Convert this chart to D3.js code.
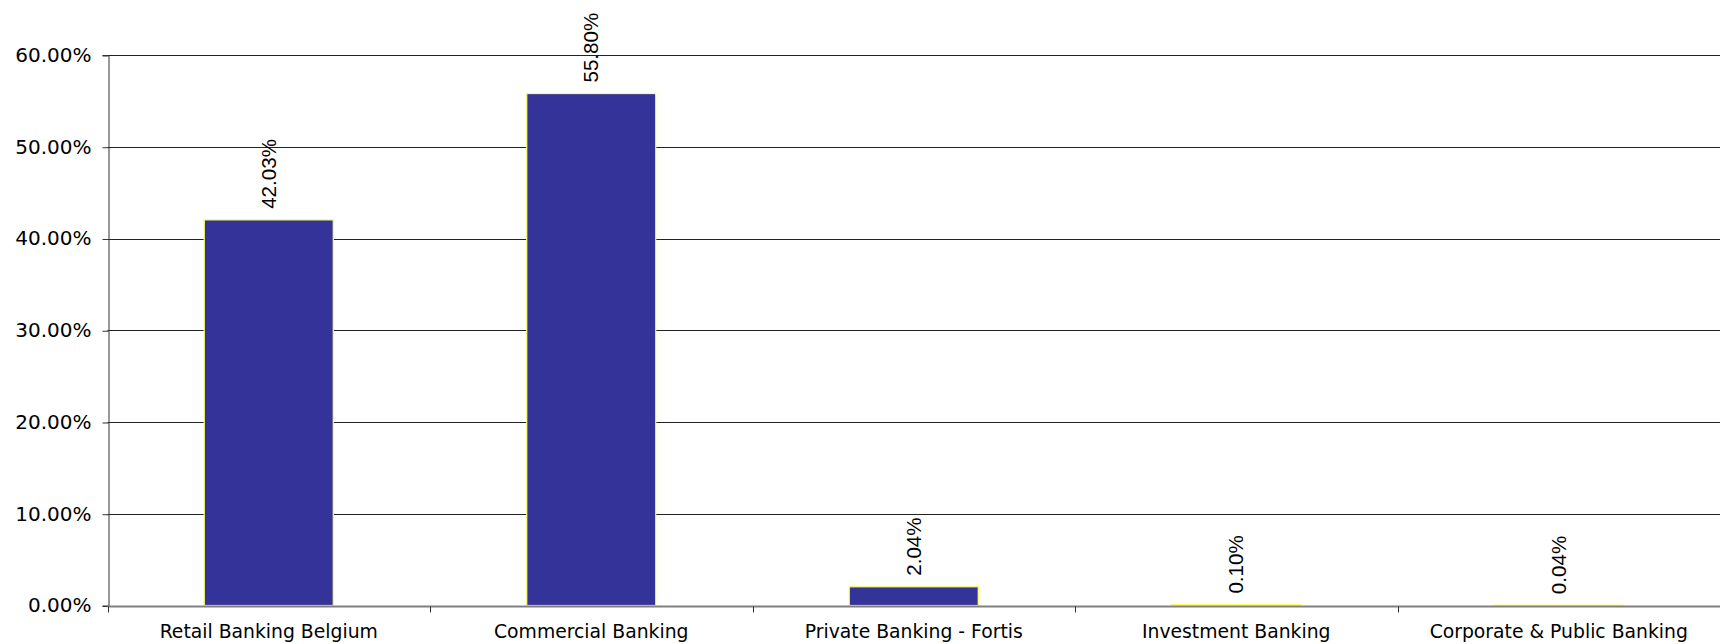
<!DOCTYPE html>
<html><head><meta charset="utf-8">
<script src="https://cdn.jsdelivr.net/npm/d3@7"></script>
<style>body{margin:0;background:#fff}svg{display:block}</style>
</head><body>
<svg id="c" width="1720" height="644"></svg>
<script>
const categories = ["Retail Banking Belgium","Commercial Banking","Private Banking - Fortis","Investment Banking","Corporate & Public Banking"];
const values = [42.03, 55.80, 2.04, 0.10, 0.04];
const yTicks = [0,10,20,30,40,50,60];

const W=1720,H=644, m={l:107.5,r:0,t:55,b:38.5};
const svg=d3.select("#c");
const x=d3.scaleBand().domain(categories).range([m.l,W-m.r]).paddingInner(0.6).paddingOuter(0.3);
const x0=d3.scaleLinear().domain([0,categories.length]).range([m.l,W-m.r]);
const y=d3.scaleLinear().domain([0,60]).range([H-m.b,m.t]);

// gridlines
svg.append("g").selectAll("line").data(yTicks.filter(d=>d>0)).join("line")
 .attr("x1",m.l).attr("x2",W).attr("y1",d=>Math.round(y(d))+0.5).attr("y2",d=>Math.round(y(d))+0.5)
 .attr("stroke","#222").attr("stroke-width",1);

// y axis
const ya=svg.append("g").attr("transform",`translate(${Math.round(m.l)+0.5},0)`)
 .call(d3.axisLeft(y).tickValues(yTicks).tickSize(6).tickFormat(d=>d3.format(".2f")(d)+"%"));
ya.select(".domain").attr("stroke","#333");
ya.selectAll(".tick line").attr("stroke","#333").attr("transform","translate(0,0.5)");
ya.selectAll("text").attr("font-family","DejaVu Sans, Verdana, sans-serif").attr("font-size","20px").attr("fill","#000").attr("x",-17);

// bars
svg.append("g").selectAll("rect").data(values).join("rect")
 .attr("x",(d,i)=>x(categories[i])).attr("width",x.bandwidth())
 .attr("y",d=>y(d)).attr("height",d=>y(0)-y(d))
 .attr("fill","#333399").attr("stroke","#ffff66").attr("stroke-width",1.2);

// x axis baseline
const base=Math.round(y(0))+0.5;
svg.append("line").attr("x1",m.l).attr("x2",W).attr("y1",base).attr("y2",base).attr("stroke","#808080").attr("stroke-width",2);
// category ticks
svg.append("g").selectAll("line").data(d3.range(categories.length+1)).join("line")
 .attr("x1",d=>Math.round(x0(d))+0.5).attr("x2",d=>Math.round(x0(d))+0.5)
 .attr("y1",base).attr("y2",base+6).attr("stroke","#333");

// category labels
svg.append("g").selectAll("text").data(categories).join("text")
 .attr("x",d=>x(d)+x.bandwidth()/2).attr("y",638).attr("text-anchor","middle")
 .attr("font-family","DejaVu Sans, Verdana, sans-serif").attr("font-size","18.8px").attr("fill","#000").text(d=>d);

// data labels
svg.append("g").selectAll("text").data(values).join("text")
 .attr("transform",(d,i)=>`translate(${x(categories[i])+x.bandwidth()/2},${y(d)-11}) rotate(-90)`)
 .attr("dy","0.35em").attr("text-anchor","start")
 .attr("font-family","Liberation Sans, Arial, sans-serif").attr("font-size","20.6px").attr("fill","#000")
 .text(d=>d3.format(".2f")(d)+"%");
</script>
</body></html>
